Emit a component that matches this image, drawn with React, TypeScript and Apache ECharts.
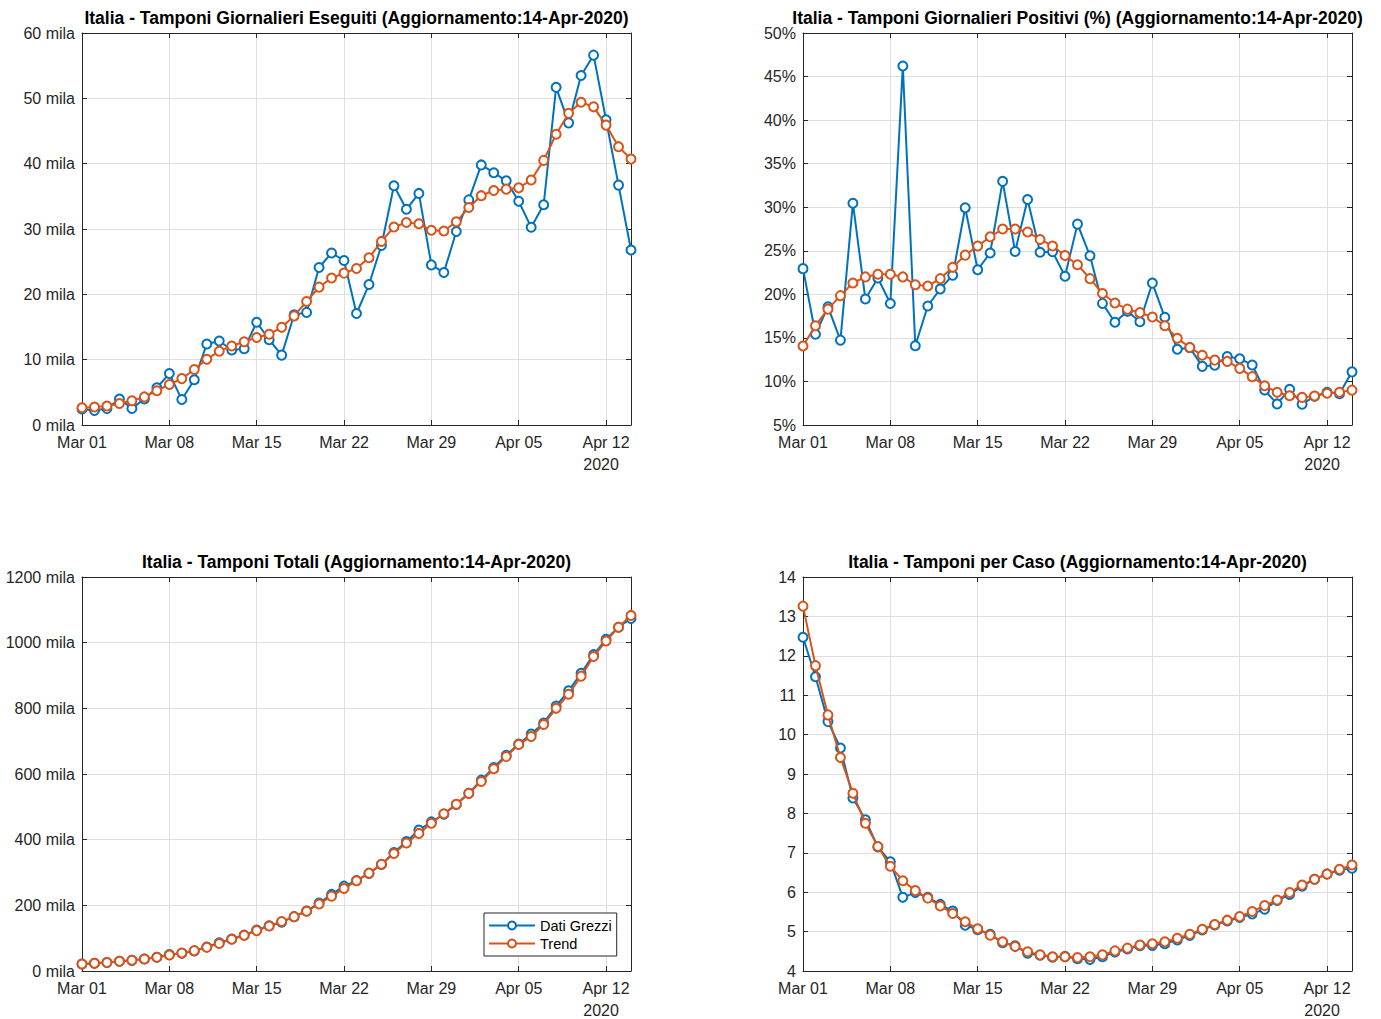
import React, { useEffect, useRef } from "react";
import * as echarts from "echarts";

const dates = [
  "Mar 01","Mar 02","Mar 03","Mar 04","Mar 05","Mar 06","Mar 07","Mar 08","Mar 09","Mar 10",
  "Mar 11","Mar 12","Mar 13","Mar 14","Mar 15","Mar 16","Mar 17","Mar 18","Mar 19","Mar 20",
  "Mar 21","Mar 22","Mar 23","Mar 24","Mar 25","Mar 26","Mar 27","Mar 28","Mar 29","Mar 30",
  "Mar 31","Apr 01","Apr 02","Apr 03","Apr 04","Apr 05","Apr 06","Apr 07","Apr 08","Apr 09",
  "Apr 10","Apr 11","Apr 12","Apr 13","Apr 14",
];

const giornalieriRaw = [2466, 2218, 2511, 3981, 2525, 3997, 5703, 7875, 3889, 6935, 12393, 12857, 11477, 11682, 15729, 13063, 10695, 16884, 17236, 24109, 26336, 25180, 17066, 21496, 27481, 36615, 33019, 35447, 24504, 23329, 29609, 34455, 39809, 38617, 37375, 34237, 30271, 33713, 51680, 46244, 53495, 56609, 46720, 36717, 26779];
const giornalieriTrend = [2650, 2750, 2900, 3300, 3700, 4300, 5250, 6200, 7100, 8500, 10050, 11300, 12100, 12750, 13400, 13900, 14950, 16700, 18900, 21100, 22500, 23250, 23950, 25600, 28100, 30300, 31000, 30800, 29800, 29700, 31100, 33300, 35100, 35900, 36100, 36300, 37500, 40500, 44500, 47700, 49400, 48700, 45900, 42600, 40700];

const positiviRaw = [22.95, 15.42, 18.56, 14.74, 30.46, 19.46, 21.87, 18.95, 46.21, 14.09, 18.66, 20.62, 22.19, 29.94, 22.82, 24.75, 32.97, 24.92, 30.88, 24.83, 24.9, 22.08, 28.06, 24.42, 18.96, 16.8, 18.05, 16.85, 21.29, 17.36, 13.69, 13.88, 11.73, 11.87, 12.86, 12.61, 11.89, 9.01, 7.42, 9.09, 7.39, 8.29, 8.76, 8.59, 11.1];
const positiviTrend = [14.07, 16.4, 18.3, 19.85, 21.3, 22.0, 22.3, 22.3, 22.0, 21.1, 20.95, 21.8, 23.1, 24.5, 25.55, 26.6, 27.5, 27.5, 27.15, 26.3, 25.55, 24.45, 23.4, 21.8, 20.1, 19.0, 18.3, 17.9, 17.4, 16.4, 14.95, 13.9, 13.0, 12.45, 12.3, 11.5, 10.55, 9.5, 8.75, 8.36, 8.17, 8.33, 8.64, 8.75, 9.0];

const totaliRaw = [21127, 23345, 25856, 29837, 32362, 36359, 42062, 49937, 53826, 60761, 73154, 86011, 97488, 109170, 124899, 137962, 148657, 165541, 182777, 206886, 233222, 258402, 275468, 296964, 324445, 361060, 394079, 429526, 454030, 477359, 506968, 541423, 581232, 619849, 657224, 691461, 721732, 755445, 807125, 853369, 906864, 963473, 1010193, 1046910, 1073689];
const totaliTrend = [21300, 23500, 26000, 29600, 32900, 36700, 42000, 48800, 55000, 62000, 72000, 84000, 96500, 109000, 123000, 137000, 150500, 165500, 182000, 204000, 228000, 251000, 275000, 298000, 325000, 358000, 390000, 419000, 450000, 479000, 508000, 541000, 577000, 616000, 653000, 690000, 714000, 751000, 800000, 843000, 898000, 958000, 1005000, 1047000, 1083000];

const perCasoRaw = [12.47, 11.47, 10.33, 9.66, 8.39, 7.84, 7.15, 6.77, 5.87, 5.99, 5.87, 5.69, 5.52, 5.16, 5.05, 4.93, 4.72, 4.64, 4.45, 4.4, 4.35, 4.37, 4.31, 4.29, 4.36, 4.48, 4.56, 4.64, 4.65, 4.69, 4.79, 4.9, 5.04, 5.17, 5.27, 5.36, 5.45, 5.57, 5.79, 5.94, 6.15, 6.33, 6.46, 6.56, 6.61];
const perCasoTrend = [13.26, 11.75, 10.5, 9.42, 8.51, 7.75, 7.16, 6.66, 6.29, 6.04, 5.85, 5.65, 5.46, 5.25, 5.07, 4.91, 4.74, 4.62, 4.49, 4.41, 4.36, 4.36, 4.34, 4.36, 4.41, 4.51, 4.58, 4.66, 4.69, 4.74, 4.83, 4.93, 5.06, 5.18, 5.29, 5.38, 5.51, 5.66, 5.8, 5.99, 6.18, 6.33, 6.46, 6.58, 6.69];

const titles = [
  "Italia - Tamponi Giornalieri Eseguiti (Aggiornamento:14-Apr-2020)",
  "Italia - Tamponi Giornalieri Positivi (%) (Aggiornamento:14-Apr-2020)",
  "Italia - Tamponi Totali (Aggiornamento:14-Apr-2020)",
  "Italia - Tamponi per Caso (Aggiornamento:14-Apr-2020)",
];
const yearLabel = "2020";
const legendNames = ["Dati Grezzi", "Trend"];

const FONT = '"Liberation Sans", Arial, Helvetica, sans-serif';
const BLUE = "#0072BD";
const ORANGE = "#D95319";
const AXIS = "#262626";
const GRID = "#dfdfdf";

const grids = [
  { left: 82, top: 33, width: 549, height: 392 },
  { left: 803, top: 33, width: 549, height: 392 },
  { left: 82, top: 577, width: 549, height: 394 },
  { left: 803, top: 577, width: 549, height: 394 },
];

const milaFmt = (v: number) => `${Math.round(v / 1000)} mila`;
const yConf = [
  { min: 0, max: 60000, interval: 10000, fmt: milaFmt },
  { min: 5, max: 50, interval: 5, fmt: (v: number) => `${v}%` },
  { min: 0, max: 1200000, interval: 200000, fmt: milaFmt },
  { min: 4, max: 14, interval: 1, fmt: (v: number) => `${v}` },
];
const seriesData = [
  [giornalieriRaw, giornalieriTrend],
  [positiviRaw, positiviTrend],
  [totaliRaw, totaliTrend],
  [perCasoRaw, perCasoTrend],
];

const every7 = (i: number) => i % 7 === 0;

export default function App() {
  const ref = useRef<HTMLDivElement>(null);
  useEffect(() => {
    if (!ref.current) return;
    const chart = echarts.init(ref.current, undefined, { renderer: "svg" });
    const xAxis: any[] = [];
    const yAxis: any[] = [];
    const series: any[] = [];
    const graphic: any[] = [];
    grids.forEach((g, p) => {
      const axisLine = { show: true, onZero: false, lineStyle: { color: AXIS, width: 1 } };
      const tick = { show: true, inside: true, length: 5, lineStyle: { color: AXIS } };
      xAxis.push({
        type: "category", gridIndex: p, data: dates, boundaryGap: false, position: "bottom",
        axisLine, axisTick: { ...tick, interval: every7 },
        axisLabel: { interval: every7, color: AXIS, fontSize: 16, fontFamily: FONT, margin: 9 },
        splitLine: { show: true, interval: every7, lineStyle: { color: GRID, width: 1 } },
      });
      xAxis.push({
        type: "category", gridIndex: p, data: dates, boundaryGap: false, position: "top",
        axisLine, axisTick: { ...tick, interval: every7 },
        axisLabel: { show: false }, splitLine: { show: false },
      });
      const yc = yConf[p];
      yAxis.push({
        type: "value", gridIndex: p, min: yc.min, max: yc.max, interval: yc.interval, position: "left",
        axisLine, axisTick: tick,
        axisLabel: { formatter: yc.fmt, color: AXIS, fontSize: 16, fontFamily: FONT, margin: 7 },
        splitLine: { show: true, lineStyle: { color: GRID, width: 1 } },
      });
      yAxis.push({
        type: "value", gridIndex: p, min: yc.min, max: yc.max, interval: yc.interval, position: "right",
        axisLine, axisTick: tick, axisLabel: { show: false }, splitLine: { show: false },
      });
      [BLUE, ORANGE].forEach((c, k) => {
        series.push({
          type: "line", name: legendNames[k], xAxisIndex: 2 * p, yAxisIndex: 2 * p,
          data: seriesData[p][k], symbol: "emptyCircle", symbolSize: 9, showAllSymbol: true,
          lineStyle: { color: c, width: 2 },
          itemStyle: { color: c, borderColor: c, borderWidth: 2 },
          z: 2 + k,
        });
      });
      graphic.push({
        type: "text", x: g.left + g.width / 2, y: g.top - 15,
        style: { text: titles[p], fill: "#000", font: `bold 17.5px ${FONT}`, align: "center", verticalAlign: "middle", textAlign: "center", textVerticalAlign: "middle" },
      });
      const tickX = g.left + (42 / 44) * g.width;
      graphic.push({
        type: "text", x: tickX - 5, y: g.top + g.height + 39,
        style: { text: yearLabel, fill: AXIS, font: `16px ${FONT}`, align: "center", verticalAlign: "middle", textAlign: "center", textVerticalAlign: "middle" },
      });
    });
    chart.setOption({
      animation: false,
      backgroundColor: "#fff",
      grid: grids.map((g) => ({ ...g, containLabel: false })),
      xAxis, yAxis, series, graphic,
      legend: {
        data: legendNames, left: 484, top: 913, orient: "vertical",
        backgroundColor: "#fff", borderColor: AXIS, borderWidth: 1, borderRadius: 0,
        padding: [5, 5, 5, 4], itemGap: 3, itemWidth: 46, itemHeight: 10,
        textStyle: { fontSize: 14.5, color: "#000", fontFamily: FONT },
      },
    });
    return () => chart.dispose();
  }, []);
  return (
    <div
      ref={ref}
      style={{ position: "fixed", left: 0, top: 0, width: 1381, height: 1019, background: "#fff" }}
    />
  );
}
